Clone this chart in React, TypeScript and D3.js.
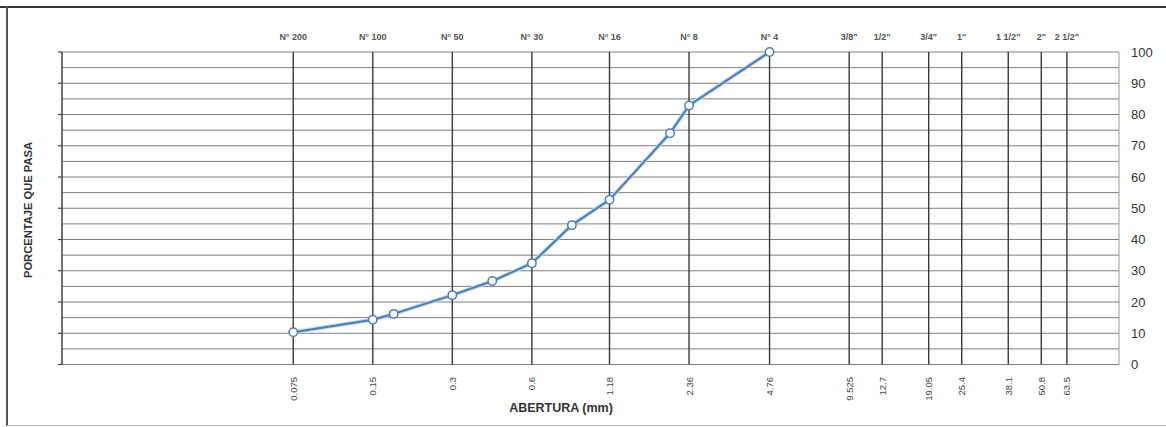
import * as d3 from "d3";

// sieve openings (mm) and the names printed on top
const sieveSizes = [0.075, 0.15, 0.3, 0.6, 1.18, 2.36, 4.76, 9.525, 12.7, 19.05, 25.4, 38.1, 50.8, 63.5];
const sieveNames = ["N° 200", "N° 100", "N° 50", "N° 30", "N° 16", "N° 8", "N° 4", "3/8\"", "1/2\"", "3/4\"", "1\"", "1 1/2\"", "2\"", "2 1/2\""];
const sieveLabels = ["0.075", "0.15", "0.3", "0.6", "1.18", "2.36", "4.76", "9.525", "12.7", "19.05", "25.4", "38.1", "50.8", "63.5"];

// measured curve
const openings = [0.075, 0.15, 0.18, 0.3, 0.425, 0.6, 0.85, 1.18, 2.0, 2.36, 4.76];
const passing = [10.3, 14.3, 16.2, 22.2, 26.7, 32.4, 44.6, 52.7, 74.0, 82.9, 100];

const yTicks = [0, 10, 20, 30, 40, 50, 60, 70, 80, 90, 100];
const gridSteps = d3.range(0, 101, 5);

const W = 1166;
const H = 427;
const left = 62;
const right = 1119;
const top = 52;
const bottom = 364.5;
const font = "'Liberation Sans', Arial, sans-serif";
const blue = "#4a7db5";

export default function App() {
  const x = d3.scaleLog().domain([0.01, 100]).range([left, right]);
  const y = d3.scaleLinear().domain([0, 100]).range([bottom, top]);

  const pts = openings.map((o, i) => ({ o, p: passing[i] }));
  const line = d3
    .line<{ o: number; p: number }>()
    .x((d) => x(d.o))
    .y((d) => y(d.p));

  return (
    <svg
      width={W}
      height={H}
      style={{ position: "absolute", left: 0, top: 0, background: "#fff" }}
    >
      {/* frame */}
      <line x1={0} x2={W} y1={7} y2={7} stroke="#333" strokeWidth={2} />
      <line x1={7} x2={7} y1={6} y2={426} stroke="#555" strokeWidth={2} />
      <line x1={7} x2={W} y1={425.5} y2={425.5} stroke="#bbb" strokeWidth={1} />

      {/* horizontal grid every 5% */}
      {gridSteps.map((v) => (
        <line
          key={"h" + v}
          x1={left}
          x2={right}
          y1={y(v)}
          y2={y(v)}
          stroke="#7d7d7d"
          strokeWidth={1}
        />
      ))}
      <line x1={right} x2={right} y1={top} y2={bottom} stroke="#9a9a9a" strokeWidth={1} />

      {/* left axis */}
      <line x1={left} x2={left} y1={top} y2={bottom} stroke="#444" strokeWidth={1.5} />
      {yTicks.map((v) => (
        <line key={"t" + v} x1={left - 4} x2={left} y1={y(v)} y2={y(v)} stroke="#444" strokeWidth={1.2} />
      ))}

      {/* sieve lines */}
      {sieveSizes.map((s) => (
        <line
          key={"v" + s}
          x1={x(s)}
          x2={x(s)}
          y1={top}
          y2={bottom}
          stroke="#3a3a3a"
          strokeWidth={1.4}
        />
      ))}

      {/* sieve names */}
      {sieveSizes.map((s, i) => (
        <text
          key={"n" + s}
          x={x(s)}
          y={40}
          textAnchor="middle"
          fontFamily={font}
          fontSize={9}
          fontWeight="bold"
          fill="#555"
        >
          {sieveNames[i]}
        </text>
      ))}

      {/* opening labels, rotated */}
      {sieveSizes.map((s, i) => (
        <text
          key={"l" + s}
          transform={`translate(${x(s) + 3.5},377) rotate(-90)`}
          textAnchor="end"
          fontFamily={font}
          fontSize={9.5}
          fill="#444"
        >
          {sieveLabels[i]}
        </text>
      ))}

      {/* right percentage labels */}
      {yTicks.map((v) => (
        <text
          key={"r" + v}
          x={1131}
          y={y(v) + 4.5}
          fontFamily={font}
          fontSize={13}
          fill="#333"
        >
          {v}
        </text>
      ))}

      {/* curve */}
      <path d={line(pts) ?? ""} fill="none" stroke="#bcd6ee" strokeWidth={4} />
      <path d={line(pts) ?? ""} fill="none" stroke={blue} strokeWidth={2} />
      {pts.map((d) => (
        <circle
          key={"c" + d.o}
          cx={x(d.o)}
          cy={y(d.p)}
          r={4.2}
          fill="#fff"
          stroke={blue}
          strokeWidth={1.5}
        />
      ))}

      {/* axis titles */}
      <text
        x={561}
        y={412}
        textAnchor="middle"
        fontFamily={font}
        fontSize={12.5}
        fontWeight="bold"
        fill="#333"
      >
        ABERTURA (mm)
      </text>
      <text
        transform="translate(32,210) rotate(-90)"
        textAnchor="middle"
        fontFamily={font}
        fontSize={11}
        fontWeight="bold"
        fill="#333"
        textLength={136}
        lengthAdjust="spacingAndGlyphs"
      >
        PORCENTAJE QUE PASA
      </text>
    </svg>
  );
}
